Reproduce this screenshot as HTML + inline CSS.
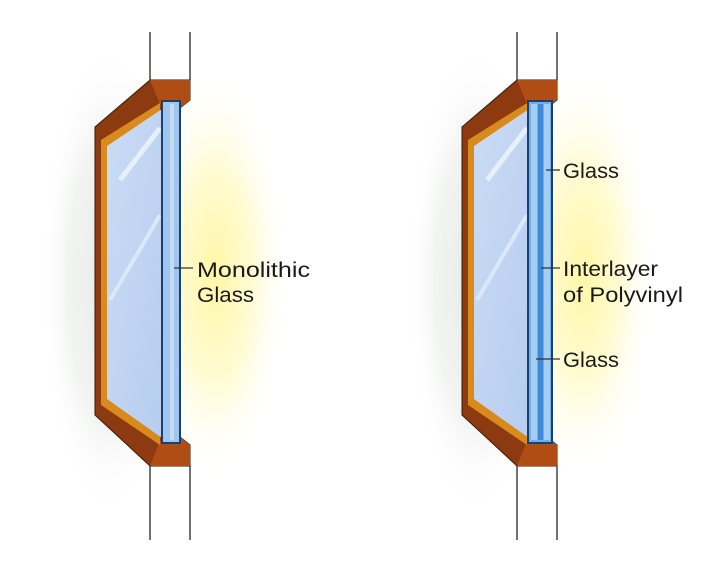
<!DOCTYPE html>
<html><head><meta charset="utf-8"><style>
html,body{margin:0;padding:0;background:#fff;}
svg{display:block;}
text{font-family:"Liberation Sans",sans-serif;font-size:21px;fill:#1a1a1a;}
</style></head><body>
<svg width="720" height="571" viewBox="0 0 720 571" xmlns="http://www.w3.org/2000/svg">
<defs>
<radialGradient id="yel" cx="0.5" cy="0.5" r="0.5">
<stop offset="0" stop-color="#fff7a8"/><stop offset="0.5" stop-color="#fffbd2"/><stop offset="1" stop-color="#ffffff" stop-opacity="0"/>
</radialGradient>
<radialGradient id="gry" cx="0.5" cy="0.5" r="0.5">
<stop offset="0" stop-color="#e6ebe6"/><stop offset="0.6" stop-color="#f2f4f2"/><stop offset="1" stop-color="#ffffff" stop-opacity="0"/>
</radialGradient>
<linearGradient id="gl" x1="0" y1="0" x2="1" y2="1">
<stop offset="0" stop-color="#c9dcf5"/><stop offset="1" stop-color="#b7cdef"/>
</linearGradient>
<g id="unit">
<ellipse cx="110" cy="280" rx="70" ry="240" fill="url(#gry)"/>
<ellipse cx="215" cy="275" rx="75" ry="210" fill="url(#yel)"/>
<line x1="150" y1="32" x2="150" y2="80" stroke="#444" stroke-width="1.5"/>
<line x1="190" y1="32" x2="190" y2="80" stroke="#444" stroke-width="1.5"/>
<line x1="150" y1="466" x2="150" y2="540" stroke="#444" stroke-width="1.5"/>
<line x1="190" y1="466" x2="190" y2="540" stroke="#444" stroke-width="1.5"/>
<polygon points="150,80 190,80 190,100 180,108 180,437 190,445 190,466 150,466 95,415 95,127" fill="#8e3a10" stroke="#3a1a08" stroke-width="1"/>
<polygon points="150,80 190,80 190,100 180,108 160,104" fill="#b04d15"/>
<polygon points="150,466 190,466 190,445 180,437 160,441" fill="#b04d15"/>
<polygon points="160,103 101,140 101,405 160,445" fill="#d98a1c"/>
<polygon points="162,109 107,146 107,399 162,438" fill="url(#gl)"/>
<line x1="120" y1="180" x2="160" y2="128" stroke="#e6f0fb" stroke-width="5"/>
<line x1="110" y1="300" x2="160" y2="215" stroke="#dbe8f8" stroke-width="4"/>
</g>
</defs>
<use href="#unit"/>
<use href="#unit" x="367"/>
<rect x="162" y="101" width="18" height="342" fill="#9fc6ee" stroke="#1d3f6e" stroke-width="2"/>
<rect x="170" y="104" width="4" height="336" fill="#c3dcf6"/>
<line x1="174" y1="268" x2="193" y2="268" stroke="#333" stroke-width="1.3"/>
<text x="197" y="277" textLength="113" lengthAdjust="spacingAndGlyphs">Monolithic</text>
<text x="197" y="302" textLength="57" lengthAdjust="spacingAndGlyphs">Glass</text>
<rect x="528" y="101" width="24" height="342" fill="#6fb0ea" stroke="#1d3f6e" stroke-width="2"/>
<rect x="531" y="104" width="6" height="336" fill="#a6cdf2"/>
<rect x="538" y="104" width="5" height="336" fill="#3e8ad8"/>
<rect x="544" y="104" width="6" height="336" fill="#a6cdf2"/>
<line x1="546" y1="170" x2="560" y2="170" stroke="#333" stroke-width="1.3"/>
<line x1="541" y1="268" x2="560" y2="268" stroke="#333" stroke-width="1.3"/>
<line x1="536" y1="359" x2="560" y2="359" stroke="#333" stroke-width="1.3"/>
<text x="563" y="178" textLength="56" lengthAdjust="spacingAndGlyphs">Glass</text>
<text x="563" y="276" textLength="95" lengthAdjust="spacingAndGlyphs">Interlayer</text>
<text x="563" y="302" textLength="120" lengthAdjust="spacingAndGlyphs">of Polyvinyl</text>
<text x="563" y="367" textLength="56" lengthAdjust="spacingAndGlyphs">Glass</text>
</svg>
</body></html>
